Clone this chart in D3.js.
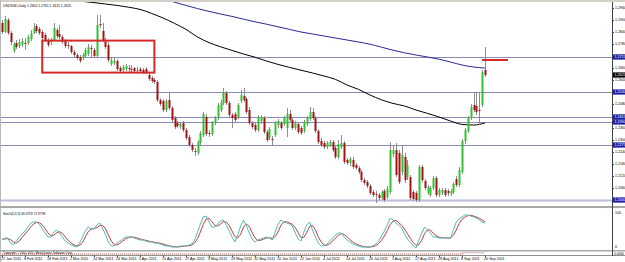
<!DOCTYPE html>
<html><head><meta charset="utf-8">
<script src="https://cdn.jsdelivr.net/npm/d3@7"></script>
<style>
html,body{margin:0;padding:0;background:#fff;overflow:hidden;}
svg{display:block;font-family:"Liberation Sans",Arial,sans-serif;}
</style></head><body>
<svg id="c" width="625" height="262"></svg>
<script>
const symbol = "USDSGD,Daily";
const dateLabels = ["27 Jan 2011","8 Feb 2011","18 Feb 2011","2 Mar 2011","14 Mar 2011","24 Mar 2011","5 Apr 2011","15 Apr 2011","27 Apr 2011","9 May 2011","19 May 2011","31 May 2011","10 Jun 2011","22 Jun 2011","4 Jul 2011","14 Jul 2011","26 Jul 2011","5 Aug 2011","17 Aug 2011","29 Aug 2011","8 Sep 2011","20 Sep 2011"];
const open = [1.2885,1.2840,1.2900,1.2835,1.2745,1.2785,1.2770,1.2775,1.2785,1.2785,
1.2805,1.2835,1.2870,1.2855,1.2840,1.2825,1.2800,1.2790,1.2800,1.2850,
1.2830,1.2815,1.2795,1.2775,1.2770,1.2740,1.2725,1.2715,1.2710,1.2720,
1.2730,1.2760,1.2750,1.2720,1.2880,1.2845,1.2800,1.2775,1.2680,1.2685,
1.2695,1.2660,1.2650,1.2655,1.2660,1.2655,1.2660,1.2650,1.2655,1.2650,
1.2655,1.2625,1.2610,1.2600,1.2590,1.2500,1.2495,1.2450,1.2500,1.2460,
1.2410,1.2385,1.2365,1.2385,1.2350,1.2315,1.2275,1.2245,1.2235,1.2285,
1.2325,1.2415,1.2335,1.2330,1.2385,1.2410,1.2450,1.2485,1.2535,1.2485,
1.2425,1.2430,1.2415,1.2495,1.2520,1.2505,1.2450,1.2385,1.2375,1.2350,
1.2395,1.2410,1.2340,1.2310,1.2305,1.2325,1.2375,1.2385,1.2380,1.2360,
1.2430,1.2400,1.2360,1.2380,1.2360,1.2345,1.2380,1.2405,1.2440,1.2410,
1.2345,1.2295,1.2285,1.2265,1.2275,1.2290,1.2260,1.2215,1.2265,1.2285,
1.2200,1.2185,1.2200,1.2175,1.2160,1.2140,1.2100,1.2090,1.2070,1.2040,
1.2030,1.2025,1.2010,1.2045,1.2015,1.2040,1.2230,1.2250,1.2235,1.2140,
1.2215,1.2115,1.2115,1.2040,1.2035,1.2000,1.2165,1.2095,1.2035,1.2025,
1.2060,1.2110,1.2025,1.2035,1.2050,1.2045,1.2030,1.2040,1.2105,1.2075,
1.2140,1.2295,1.2345,1.2410,1.2475,1.2470,1.2450,1.2475,1.2650];
const high = [1.2900,1.2920,1.2910,1.2845,1.2790,1.2800,1.2805,1.2810,1.2810,1.2825,
1.2850,1.2885,1.2880,1.2865,1.2850,1.2835,1.2810,1.2810,1.2885,1.2860,
1.2875,1.2825,1.2805,1.2790,1.2775,1.2750,1.2735,1.2725,1.2735,1.2760,
1.2780,1.2775,1.2760,1.2925,1.2925,1.2885,1.2810,1.2790,1.2710,1.2710,
1.2705,1.2670,1.2675,1.2680,1.2675,1.2675,1.2665,1.2665,1.2665,1.2660,
1.2665,1.2635,1.2620,1.2610,1.2600,1.2510,1.2505,1.2505,1.2535,1.2470,
1.2420,1.2395,1.2390,1.2395,1.2360,1.2325,1.2285,1.2260,1.2300,1.2345,
1.2440,1.2430,1.2350,1.2395,1.2420,1.2485,1.2500,1.2560,1.2545,1.2495,
1.2435,1.2440,1.2485,1.2550,1.2560,1.2515,1.2465,1.2395,1.2385,1.2425,
1.2425,1.2420,1.2350,1.2365,1.2320,1.2395,1.2405,1.2395,1.2420,1.2460,
1.2450,1.2410,1.2395,1.2390,1.2370,1.2400,1.2420,1.2465,1.2460,1.2420,
1.2355,1.2310,1.2295,1.2295,1.2300,1.2300,1.2270,1.2300,1.2325,1.2295,
1.2210,1.2215,1.2215,1.2185,1.2170,1.2150,1.2110,1.2100,1.2080,1.2050,
1.2045,1.2035,1.2050,1.2055,1.2070,1.2290,1.2275,1.2285,1.2250,1.2275,
1.2235,1.2200,1.2125,1.2050,1.2045,1.2175,1.2175,1.2105,1.2075,1.2070,
1.2120,1.2120,1.2060,1.2060,1.2060,1.2055,1.2055,1.2090,1.2120,1.2165,
1.2305,1.2360,1.2420,1.2480,1.2540,1.2540,1.2540,1.2650,1.2765];
const low = [1.2830,1.2835,1.2825,1.2775,1.2735,1.2755,1.2760,1.2765,1.2750,1.2775,
1.2795,1.2830,1.2835,1.2825,1.2800,1.2790,1.2765,1.2775,1.2795,1.2810,
1.2805,1.2780,1.2760,1.2755,1.2730,1.2715,1.2700,1.2685,1.2700,1.2710,
1.2720,1.2715,1.2710,1.2715,1.2860,1.2790,1.2755,1.2690,1.2670,1.2675,
1.2645,1.2635,1.2640,1.2645,1.2640,1.2635,1.2635,1.2635,1.2635,1.2630,
1.2630,1.2595,1.2585,1.2580,1.2490,1.2470,1.2440,1.2440,1.2450,1.2390,
1.2355,1.2360,1.2355,1.2340,1.2300,1.2265,1.2240,1.2220,1.2225,1.2275,
1.2315,1.2320,1.2315,1.2320,1.2375,1.2400,1.2440,1.2475,1.2475,1.2415,
1.2360,1.2390,1.2405,1.2485,1.2490,1.2430,1.2375,1.2355,1.2340,1.2340,
1.2380,1.2330,1.2290,1.2300,1.2275,1.2315,1.2360,1.2350,1.2370,1.2315,
1.2390,1.2350,1.2350,1.2330,1.2325,1.2335,1.2370,1.2395,1.2400,1.2335,
1.2280,1.2265,1.2255,1.2255,1.2265,1.2240,1.2205,1.2205,1.2255,1.2180,
1.2175,1.2170,1.2155,1.2150,1.2130,1.2090,1.2075,1.2060,1.2025,1.2015,
1.1985,1.2000,1.2000,1.1990,1.2005,1.2030,1.2215,1.2115,1.2080,1.2125,
1.2085,1.2100,1.2000,1.1995,1.1990,1.1990,1.2090,1.2050,1.2025,1.2015,
1.2050,1.2015,1.2015,1.2025,1.2015,1.2020,1.2020,1.2030,1.2065,1.2065,
1.2130,1.2280,1.2335,1.2400,1.2440,1.2425,1.2375,1.2465,1.2615];
const close = [1.2840,1.2905,1.2835,1.2790,1.2780,1.2765,1.2790,1.2795,1.2780,1.2815,
1.2835,1.2860,1.2845,1.2835,1.2810,1.2800,1.2775,1.2795,1.2860,1.2820,
1.2815,1.2790,1.2770,1.2770,1.2740,1.2725,1.2710,1.2695,1.2725,1.2750,
1.2765,1.2755,1.2720,1.2875,1.2875,1.2800,1.2765,1.2700,1.2700,1.2695,
1.2655,1.2645,1.2665,1.2670,1.2655,1.2650,1.2645,1.2650,1.2645,1.2640,
1.2640,1.2605,1.2595,1.2590,1.2500,1.2480,1.2450,1.2495,1.2460,1.2400,
1.2365,1.2370,1.2380,1.2350,1.2310,1.2275,1.2250,1.2240,1.2290,1.2335,
1.2430,1.2330,1.2330,1.2385,1.2410,1.2475,1.2485,1.2540,1.2485,1.2425,
1.2410,1.2400,1.2475,1.2525,1.2500,1.2440,1.2385,1.2365,1.2350,1.2415,
1.2415,1.2340,1.2300,1.2355,1.2300,1.2385,1.2395,1.2360,1.2410,1.2430,
1.2400,1.2360,1.2385,1.2340,1.2335,1.2390,1.2410,1.2440,1.2410,1.2345,
1.2290,1.2275,1.2265,1.2285,1.2290,1.2250,1.2215,1.2280,1.2285,1.2190,
1.2185,1.2205,1.2165,1.2160,1.2140,1.2100,1.2085,1.2070,1.2035,1.2025,
1.2025,1.2010,1.2040,1.2000,1.2055,1.2250,1.2250,1.2125,1.2090,1.2225,
1.2100,1.2175,1.2010,1.2005,1.2000,1.2165,1.2100,1.2060,1.2065,1.2060,
1.2110,1.2025,1.2050,1.2050,1.2025,1.2035,1.2045,1.2080,1.2075,1.2150,
1.2295,1.2350,1.2410,1.2465,1.2450,1.2440,1.2445,1.2640,1.2625];
// moving averages, read every 4th bar
const maSlowStart = 24;
const maSlow = [1.3000,1.2993,1.2987,1.2980,1.2973,1.2964,1.2953,1.2933,1.2910,1.2883,1.2853,1.2815,1.2787,1.2766,1.2748,1.2730,1.2714,1.2695,1.2678,1.2663,1.2649,1.2635,1.2620,1.2603,1.2575,1.2553,1.2525,1.2501,1.2483,1.2470,1.2450,1.2433,1.2415,1.2395,1.2378,1.2375,1.2385];
const maLongStart = 56;
const maLong = [1.3005,1.2989,1.2973,1.2957,1.2943,1.2930,1.2918,1.2904,1.2891,1.2879,1.2866,1.2853,1.2840,1.2830,1.2820,1.2810,1.2800,1.2790,1.2779,1.2764,1.2749,1.2736,1.2725,1.2715,1.2704,1.2690,1.2675,1.2665,1.2660];
const levels = [1.2715,1.2540,1.2415,1.2390,1.2275,1.2000];
const priceTicks = [1.2960,1.2900,1.2840,1.2780,1.2720,1.2660,1.2600,1.2540,1.2480,1.2420,1.2360,1.2300,1.2240,1.2180,1.2120,1.2060,1.2000];
const boxZone = {fromBar:14, toBar:53, top:1.2797, bottom:1.2637};
const targetLine = {fromBar:167, toBar:176, price:1.2700};
const stochK = [22.2,27.8,27.8,13.9,8.3,19.4,30.6,38.9,47.2,58.3,
69.4,72.2,72.2,66.7,52.8,41.7,30.6,30.6,44.4,50.0,
41.7,30.6,19.4,13.9,8.3,5.6,2.8,13.9,30.6,47.2,
58.3,52.8,52.8,63.9,69.4,55.6,36.1,16.7,5.6,5.6,
13.9,19.4,25.0,30.6,30.6,30.6,27.8,25.0,22.2,22.2,
19.4,16.7,16.7,13.9,13.9,11.1,8.3,5.6,5.6,2.8,
2.8,2.8,5.6,5.6,5.6,8.3,11.1,22.2,44.4,66.7,
86.1,88.9,72.2,58.3,58.3,66.7,75.0,77.8,63.9,47.2,
30.6,16.7,36.1,61.1,77.8,61.1,41.7,25.0,16.7,22.2,
25.0,27.8,30.6,27.8,22.2,44.4,66.7,77.8,72.2,69.4,
66.7,61.1,41.7,25.0,19.4,44.4,63.9,72.2,50.0,30.6,
13.9,5.6,5.6,11.1,19.4,27.8,36.1,41.7,41.7,30.6,
22.2,16.7,11.1,8.3,5.6,2.8,2.8,2.8,2.8,5.6,
11.1,19.4,33.3,47.2,63.9,83.3,77.8,69.4,63.9,55.6,
38.9,25.0,16.7,5.6,0.0,22.2,41.7,58.3,50.0,41.7,
30.6,30.6,27.8,27.8,27.8,27.8,27.8,50.0,72.2,80.6,
86.1,91.7,91.7,88.9,86.1,83.3,77.8,72.2,69.4759];
const stochD = [24.0,25.0,25.9,23.2,16.7,13.9,19.4,29.6,38.9,48.1,
58.3,66.6,71.3,70.4,63.9,53.7,41.7,34.3,35.2,41.7,
45.4,40.8,30.6,21.3,13.9,9.3,5.6,7.4,15.8,30.6,
45.4,52.8,54.6,56.5,62.0,63.0,53.7,36.1,19.5,9.3,
8.4,13.0,19.4,25.0,28.7,30.6,29.7,27.8,25.0,23.1,
21.3,19.4,17.6,15.8,14.8,13.0,11.1,8.3,6.5,4.7,
3.7,2.8,3.7,4.7,5.6,6.5,8.3,13.9,25.9,44.4,
65.7,80.6,82.4,73.1,62.9,61.1,66.7,73.2,72.2,63.0,
47.2,31.5,27.8,38.0,58.3,66.7,60.2,42.6,27.8,21.3,
21.3,25.0,27.8,28.7,26.9,31.5,44.4,63.0,72.2,73.1,
69.4,65.7,56.5,42.6,28.7,29.6,42.6,60.2,62.0,50.9,
31.5,16.7,8.4,7.4,12.0,19.4,27.8,35.2,39.8,38.0,
31.5,23.2,16.7,12.0,8.3,5.6,3.7,2.8,2.8,3.7,
6.5,12.0,21.3,33.3,48.1,64.8,75.0,76.8,70.4,63.0,
52.8,39.8,26.9,15.8,7.4,9.3,21.3,40.7,50.0,50.0,
40.8,34.3,29.7,28.7,27.8,27.8,27.8,35.2,50.0,67.6,
79.6,86.1,89.8,90.8,88.9,86.1,82.4,77.8,72.9798];
// small bottom indicator, read every 8th bar
const miniInd = [0.3,0.3,0.3,0.3,0.3,0.3,0.3,0.3,0.3,0.3,0.3,0.3,0.3,0.3,0.3,0.3,0.3,0.3,0.3,0.3,0.75,0.75];

const svg = d3.select('#c');
const nBars = close.length;
const x = d3.scaleLinear().domain([0, 168]).range([2, 485]);
const y = d3.scaleLinear().domain([1.3, 1.19]).range([0, 220]);
const ys = d3.scaleLinear().domain([0, 100]).range([248, 212]);
const ym = d3.scaleLinear().domain([0, 1]).range([255, 252]);
const fmt = d3.format('.4f');

svg.append('rect').attr('width',625).attr('height',262).attr('fill','#fff');
const defs = svg.append('defs');
defs.append('clipPath').attr('id','mainClip').append('rect').attr('x',1).attr('y',2).attr('width',611).attr('height',204);
defs.append('clipPath').attr('id','stClip').append('rect').attr('x',1).attr('y',208).attr('width',611).attr('height',42);

// frame
svg.append('rect').attr('x',0).attr('y',0).attr('width',625).attr('height',2).attr('fill','#d4d0c8');
svg.append('rect').attr('x',0).attr('y',0).attr('width',1).attr('height',262).attr('fill','#b8b8b8');
svg.append('rect').attr('x',0).attr('y',206).attr('width',625).attr('height',2).attr('fill','#a8a8a8');
svg.append('rect').attr('x',0).attr('y',250).attr('width',625).attr('height',1.5).attr('fill','#a8a8a8');
svg.append('line').attr('x1',0).attr('x2',625).attr('y1',255.5).attr('y2',255.5).attr('stroke','#909090');
svg.append('line').attr('x1',612.5).attr('x2',612.5).attr('y1',2).attr('y2',256).attr('stroke','#404040');

const main = svg.append('g').attr('clip-path','url(#mainClip)');
// level lines
levels.forEach((l,k)=>{
  const yy = Math.round(y(l)) + 0.5;
  const last = k === levels.length-1;
  main.append('line').attr('x1',1).attr('x2',612).attr('y1',yy).attr('y2',yy)
    .attr('stroke', last ? '#bcbce0' : '#8a8ab4').attr('stroke-width', last ? 2 : 1);
});
// moving averages
const lineGen = d3.line().x(d=>x(d[0])).y(d=>y(d[1])).curve(d3.curveMonotoneX);
main.append('path').attr('d', lineGen(maLong.map((v,k)=>[maLongStart+4*k, v])))
  .attr('fill','none').attr('stroke','#2a2a96').attr('stroke-width',1);
main.append('path').attr('d', lineGen(maSlow.map((v,k)=>[maSlowStart+4*k, v])))
  .attr('fill','none').attr('stroke','#000').attr('stroke-width',1);
// candles
const bars = d3.range(nBars).map(i=>({i, o:open[i], h:high[i], l:low[i], c:close[i]}));
const cg = main.append('g');
cg.selectAll('line.w').data(bars).join('line').attr('class','w')
  .attr('x1',d=>Math.round(x(d.i))+0.5).attr('x2',d=>Math.round(x(d.i))+0.5)
  .attr('y1',d=>y(d.h)).attr('y2',d=>y(d.l)).attr('stroke','#8c8c8c').attr('stroke-width',1);
cg.selectAll('rect.b').data(bars).join('rect').attr('class','b')
  .attr('x',d=>Math.round(x(d.i))-0.5).attr('width',2)
  .attr('y',d=>y(Math.max(d.o,d.c)))
  .attr('height',d=>Math.max(1, Math.abs(y(d.o)-y(d.c))))
  .attr('fill',d=> d.c>d.o ? '#33c033' : (d.c<d.o ? '#a01414' : '#8c8c8c'));
// box zone
main.append('rect').attr('x',x(boxZone.fromBar)).attr('y',y(boxZone.top))
  .attr('width',x(boxZone.toBar)-x(boxZone.fromBar)).attr('height',y(boxZone.bottom)-y(boxZone.top))
  .attr('fill','none').attr('stroke','#d42a2a').attr('stroke-width',2);
main.append('line').attr('x1',x(targetLine.fromBar)).attr('x2',x(targetLine.toBar))
  .attr('y1',y(targetLine.price)).attr('y2',y(targetLine.price))
  .attr('stroke','#d42a2a').attr('stroke-width',2);

// title
const lastI = nBars-1;
svg.append('text').attr('x',3).attr('y',7).attr('font-size',3.4).attr('fill','#000')
  .text(`${symbol}  ${fmt(open[lastI])} ${fmt(high[lastI])} ${fmt(low[lastI])} ${fmt(close[lastI])}`);

// price axis
const ax = svg.append('g');
priceTicks.forEach(t=>{
  const yy = y(t);
  ax.append('line').attr('x1',612).attr('x2',614).attr('y1',Math.round(yy)+0.5).attr('y2',Math.round(yy)+0.5).attr('stroke','#404040');
  ax.append('text').attr('x',615).attr('y',yy+1.3).attr('font-size',3.6).attr('fill','#000').text(fmt(t));
});
levels.forEach(l=>{
  const yy = y(l);
  ax.append('rect').attr('x',613).attr('y',yy-2.6).attr('width',12).attr('height',5.2).attr('fill','#1c1caa');
  ax.append('text').attr('x',614.5).attr('y',yy+1.3).attr('font-size',3.6).attr('fill','#fff').text(fmt(l));
});
{
  const yy = y(close[lastI]);
  ax.append('rect').attr('x',613).attr('y',yy-2.6).attr('width',12).attr('height',5.2).attr('fill','#000');
  ax.append('text').attr('x',614.5).attr('y',yy+1.3).attr('font-size',3.6).attr('fill','#fff').text(fmt(close[lastI]));
}

// stochastic
const st = svg.append('g').attr('clip-path','url(#stClip)');
const sLine = d3.line().x((d,i)=>x(i)).y(d=>ys(d));
st.append('path').attr('d', sLine(stochD)).attr('fill','none').attr('stroke','#c83c3c').attr('stroke-width',1);
st.append('path').attr('d', sLine(stochK)).attr('fill','none').attr('stroke','#4cbcbc').attr('stroke-width',1);
svg.append('text').attr('x',3).attr('y',214.5).attr('font-size',3.2).attr('fill','#000')
  .text(`Stoch(5,3,3) ${fmt(stochK[lastI])} ${fmt(stochD[lastI])}`);
svg.append('text').attr('x',615).attr('y',214).attr('font-size',3.6).text('100');
svg.append('text').attr('x',615).attr('y',248).attr('font-size',3.6).text('0');

// bottom mini indicator
const mLine = d3.line().x((d,k)=>x(8*k)).y(d=>ym(d)).curve(d3.curveStepAfter);
svg.append('path').attr('d', mLine(miniInd)).attr('fill','none').attr('stroke','#d03030').attr('stroke-width',0.8).attr('stroke-dasharray','1,1');
svg.append('text').attr('x',3).attr('y',253.8).attr('font-size',3).attr('fill','#000')
  .text('Copyright © 2001-2011, MetaQuotes Software Corp.');
svg.append('text').attr('x',614).attr('y',254.5).attr('font-size',3.2).text('0.0000');

// date axis
dateLabels.forEach((lab,k)=>{
  const xx = Math.round(x(8*k))+0.5;
  svg.append('line').attr('x1',xx).attr('x2',xx).attr('y1',255.5).attr('y2',257).attr('stroke','#404040');
  svg.append('text').attr('x',x(8*k)-1).attr('y',260).attr('font-size',3.7).attr('fill','#000').text(lab);
});
</script>
</body></html>
